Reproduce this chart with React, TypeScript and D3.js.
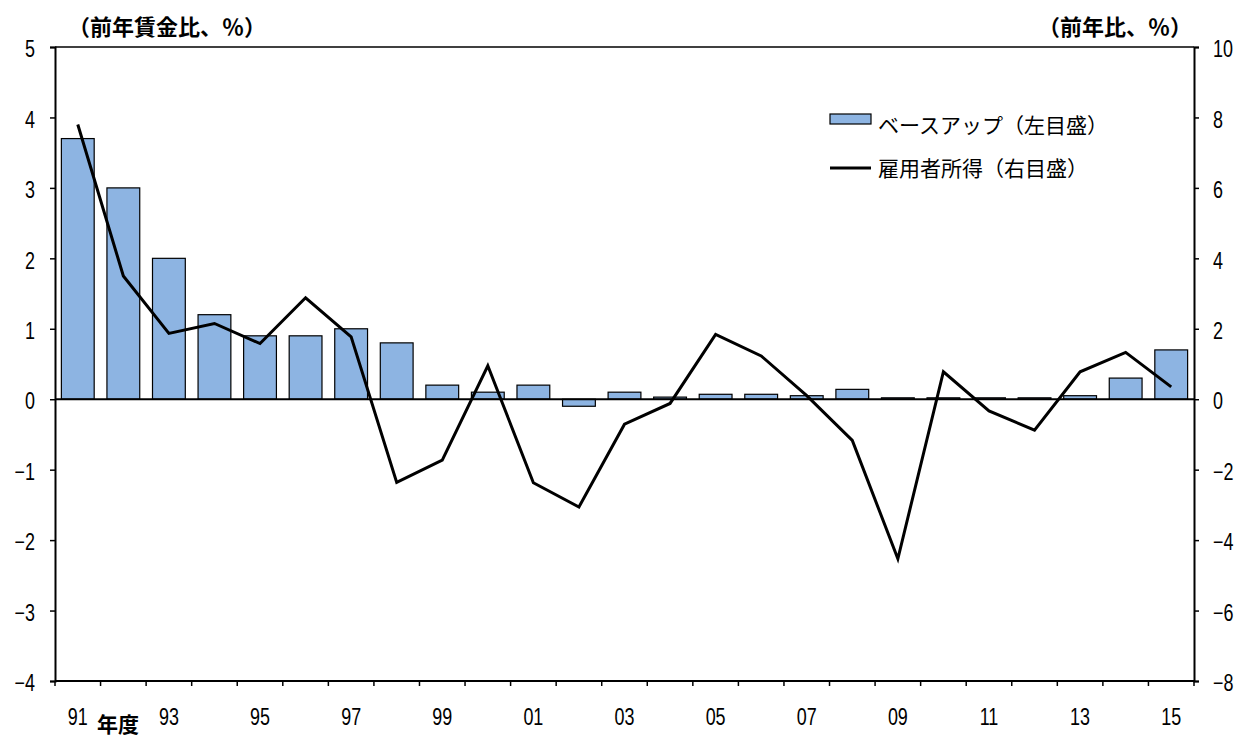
import React, { useEffect, useRef } from 'react'
import * as d3 from 'd3'

// 年度 (fiscal year labels)
const years = ['91', '92', '93', '94', '95', '96', '97', '98', '99', '00', '01', '02', '03', '04', '05', '06', '07', '08', '09', '10', '11', '12', '13', '14', '15']

// ベースアップ (left axis, %)
const baseUp = [3.7, 3.0, 2.0, 1.2, 0.9, 0.9, 1.0, 0.8, 0.2, 0.1, 0.2, -0.1, 0.1, 0.03, 0.07, 0.07, 0.05, 0.14, 0.02, 0.02, 0.02, 0.02, 0.05, 0.3, 0.7]

// 雇用者所得 (right axis, %)
const income = [7.8, 3.5, 1.87, 2.15, 1.58, 2.88, 1.77, -2.36, -1.73, 0.95, -2.37, -3.06, -0.71, -0.12, 1.84, 1.23, 0.1, -1.17, -4.53, 0.78, -0.33, -0.88, 0.78, 1.33, 0.35]

const leftTicks = [-4, -3, -2, -1, 0, 1, 2, 3, 4, 5]
const rightTicks = [-8, -6, -4, -2, 0, 2, 4, 6, 8, 10]
const labelYears = years.filter((_, i) => i % 2 === 0)

const leftTitle = '（前年賃金比、％）'
const rightTitle = '（前年比、％）'
const legendBar = 'ベースアップ（左目盛）'
const legendLine = '雇用者所得（右目盛）'
const xTitle = '年度'

const Chart = () => {
	const ref = useRef<SVGSVGElement>(null)

	const width = 1243
	const height = 738
	const marginTop = 47
	const marginRight = 49
	const marginBottom = 57
	const marginLeft = 55

	// narrow digits: regular sans squeezed horizontally
	const numFont = "'Liberation Sans', Arial, sans-serif"
	const numSize = 23
	const squeeze = 0.78
	const cjkFont = "'Noto Sans CJK JP', 'Noto Sans', sans-serif"

	useEffect(() => {
		if (!ref.current) return
		const svg = d3.select(ref.current)
		svg.selectAll('*').remove()

		const x = d3
			.scaleBand()
			.domain(years)
			.range([marginLeft, width - marginRight])
			.padding(0)
		const barW = x.bandwidth() * 0.72

		const yL = d3
			.scaleLinear()
			.domain([-4, 5])
			.range([height - marginBottom, marginTop])
		const yR = d3
			.scaleLinear()
			.domain([-8, 10])
			.range([height - marginBottom, marginTop])

		const fmt = (d: number) => (d < 0 ? '−' + Math.abs(d) : String(d))

		// bars
		svg
			.append('g')
			.selectAll('rect')
			.data(baseUp)
			.join('rect')
			.attr('x', (_, i) => x(years[i])! + (x.bandwidth() - barW) / 2)
			.attr('y', d => yL(Math.max(0, d)))
			.attr('width', barW)
			.attr('height', d => Math.max(1, Math.abs(yL(d) - yL(0))))
			.attr('fill', '#8DB4E2')
			.attr('stroke', '#000')
			.attr('stroke-width', 1.2)

		// zero line
		svg
			.append('line')
			.attr('x1', marginLeft)
			.attr('x2', width - marginRight)
			.attr('y1', yL(0))
			.attr('y2', yL(0))
			.attr('stroke', '#000')
			.attr('stroke-width', 2)

		// top border
		svg
			.append('line')
			.attr('x1', marginLeft)
			.attr('x2', width - marginRight)
			.attr('y1', marginTop)
			.attr('y2', marginTop)
			.attr('stroke', '#000')
			.attr('stroke-width', 1.5)

		// left axis
		const gL = svg
			.append('g')
			.attr('transform', `translate(${marginLeft},0)`)
			.call(
				d3
					.axisLeft(yL)
					.tickValues(leftTicks)
					.tickSize(5)
					.tickPadding(15)
					.tickFormat(fmt as any)
			)
		// right axis
		const gR = svg
			.append('g')
			.attr('transform', `translate(${width - marginRight},0)`)
			.call(
				d3
					.axisRight(yR)
					.tickValues(rightTicks)
					.tickSize(5)
					.tickPadding(14)
					.tickFormat(fmt as any)
			)
		// bottom axis: ticks at band boundaries
		const gB = svg
			.append('g')
			.attr('transform', `translate(0,${height - marginBottom})`)
		gB
			.append('line')
			.attr('x1', marginLeft)
			.attr('x2', width - marginRight)
			.attr('stroke', '#000')
			.attr('stroke-width', 2)
		const bounds = years.map(y => x(y)!).concat([width - marginRight])
		gB
			.selectAll('line.tick')
			.data(bounds)
			.join('line')
			.attr('class', 'tick')
			.attr('x1', d => d)
			.attr('x2', d => d)
			.attr('y1', 0)
			.attr('y2', 5)
			.attr('stroke', '#000')
			.attr('stroke-width', 1.5)
		gB
			.selectAll('text')
			.data(labelYears)
			.join('text')
			.attr(
				'transform',
				d => `translate(${x(d)! + x.bandwidth() / 2},44) scale(${squeeze},1)`
			)
			.attr('text-anchor', 'middle')
			.attr('font-family', numFont)
			.attr('font-size', numSize)
			.text(d => d)

		for (const g of [gL, gR]) {
			g.select('.domain').attr('stroke', '#000').attr('stroke-width', 2)
			g.selectAll('.tick line').attr('stroke', '#000').attr('stroke-width', 1.5)
			g.selectAll<SVGTextElement, number>('.tick text')
				.attr('font-family', numFont)
				.attr('font-size', numSize)
				.attr('fill', '#000')
				.attr('dy', '0.42em')
				.attr('transform', function () {
					return `translate(${this.getAttribute('x')},0) scale(${squeeze},1)`
				})
				.attr('x', 0)
		}

		// line
		const line = d3
			.line<number>()
			.x((_, i) => x(years[i])! + x.bandwidth() / 2)
			.y(d => yR(d))
		svg
			.append('path')
			.datum(income)
			.attr('d', line)
			.attr('fill', 'none')
			.attr('stroke', '#000')
			.attr('stroke-width', 3)
			.attr('stroke-linejoin', 'miter')

		// titles
		svg
			.append('text')
			.attr('x', 68)
			.attr('y', 35)
			.attr('font-family', cjkFont)
			.attr('font-weight', 'bold')
			.attr('font-size', 22)
			.text(leftTitle)
		svg
			.append('text')
			.attr('x', 1192)
			.attr('y', 35)
			.attr('text-anchor', 'end')
			.attr('font-family', cjkFont)
			.attr('font-weight', 'bold')
			.attr('font-size', 22)
			.text(rightTitle)
		svg
			.append('text')
			.attr('x', 97)
			.attr('y', 732)
			.attr('font-family', cjkFont)
			.attr('font-weight', 'bold')
			.attr('font-size', 21)
			.text(xTitle)

		// legend
		const lg = svg.append('g').attr('transform', 'translate(830,0)')
		lg.append('rect')
			.attr('x', 0)
			.attr('y', 114)
			.attr('width', 41)
			.attr('height', 10)
			.attr('fill', '#8DB4E2')
			.attr('stroke', '#000')
			.attr('stroke-width', 1.2)
		lg.append('text')
			.attr('x', 48)
			.attr('y', 133)
			.attr('font-family', cjkFont)
			.attr('font-size', 21)
			.text(legendBar)
		lg.append('line')
			.attr('x1', 0)
			.attr('x2', 41)
			.attr('y1', 168)
			.attr('y2', 168)
			.attr('stroke', '#000')
			.attr('stroke-width', 3)
		lg.append('text')
			.attr('x', 48)
			.attr('y', 176)
			.attr('font-family', cjkFont)
			.attr('font-size', 21)
			.text(legendLine)
	}, [])

	return (
		<svg
			ref={ref}
			width={width}
			height={height}
			style={{ position: 'absolute', left: 0, top: 0, background: '#fff' }}
		></svg>
	)
}

export default function App() {
	return <Chart />
}
